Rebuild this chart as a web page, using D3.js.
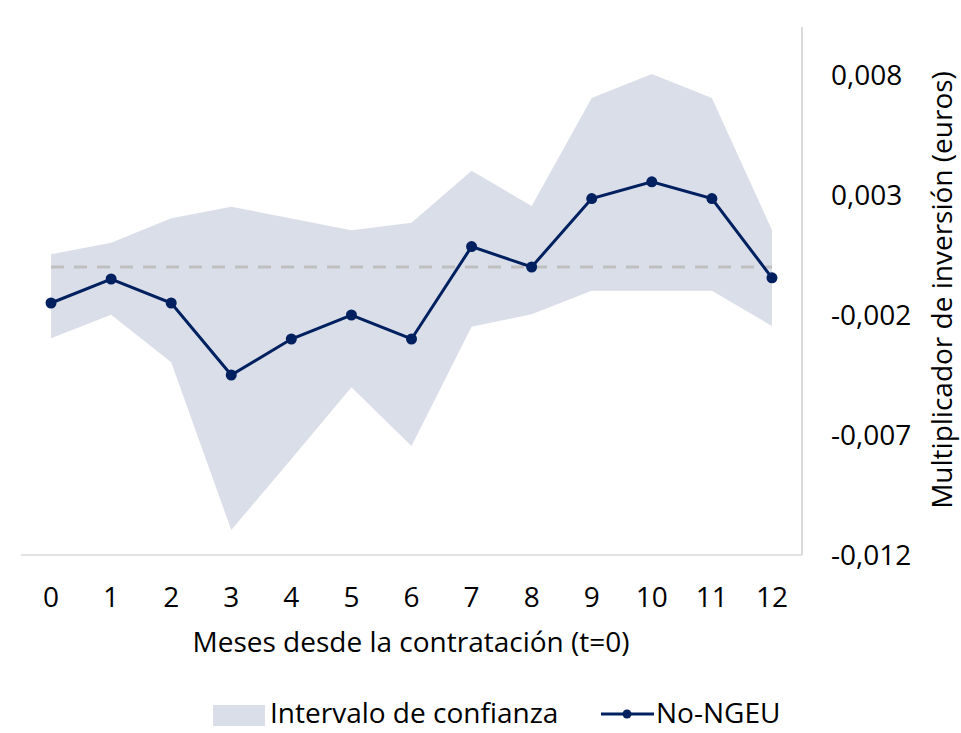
<!DOCTYPE html>
<meta charset="utf-8">
<html>
<head>
<script src="https://d3js.org/d3.v7.min.js"></script>
<style>
  body { margin: 0; background: #fff; }
  text { font-family: "Open Sans", sans-serif; fill: #000; }
</style>
</head>
<body>
<div id="chart"></div>
<script>
// months since contract signing
var months = [0, 1, 2, 3, 4, 5, 6, 7, 8, 9, 10, 11, 12];
// No-NGEU investment multiplier
var estimate = [-0.0015, -0.0005, -0.0015, -0.0045, -0.003, -0.002, -0.003, 0.00085, 0.0, 0.00285, 0.00355, 0.00285, -0.00045];
// confidence interval
var upper = [0.00053, 0.00101, 0.00203, 0.00251, 0.00202, 0.00153, 0.00184, 0.00401, 0.00254, 0.00704, 0.00804, 0.00704, 0.00154];
var lower = [-0.00297, -0.00199, -0.00397, -0.01096, -0.008, -0.00501, -0.00746, -0.00249, -0.00197, -0.00099, -0.00099, -0.00099, -0.00246];
var yTicks = [0.008, 0.003, -0.002, -0.007, -0.012];

var width = 961, height = 733;
var margin = {top: 27, right: 159, bottom: 178, left: 21};
var fs = 28;

var svg = d3.select("#chart").append("svg")
  .attr("width", width)
  .attr("height", height);

var x = d3.scalePoint()
  .domain(months)
  .range([margin.left, width - margin.right])
  .padding(0.5);

var y = d3.scaleLinear()
  .domain([-0.012, 0.010])
  .range([height - margin.bottom, margin.top]);

var fmt = function(d) { return d3.format(".3f")(d).replace(".", ",").replace("−", "-"); };

var rows = months.map(function(m, i) {
  return {m: m, v: estimate[i], hi: upper[i], lo: lower[i]};
});

// confidence band
svg.append("path")
  .datum(rows)
  .attr("fill", "#d9dee8")
  .attr("d", d3.area()
    .x(function(d) { return x(d.m); })
    .y0(function(d) { return y(d.lo); })
    .y1(function(d) { return y(d.hi); }));

// zero reference
svg.append("line")
  .attr("x1", x(0)).attr("x2", x(12))
  .attr("y1", y(0)).attr("y2", y(0))
  .attr("stroke", "#bfbfbf")
  .attr("stroke-width", 3)
  .attr("stroke-dasharray", "13,10");

// axes lines
svg.append("line")
  .attr("x1", margin.left).attr("x2", width - margin.right)
  .attr("y1", y(-0.012)).attr("y2", y(-0.012))
  .attr("stroke", "#d9d9d9").attr("stroke-width", 1.5);
svg.append("line")
  .attr("x1", width - margin.right).attr("x2", width - margin.right)
  .attr("y1", y(0.010)).attr("y2", y(-0.012))
  .attr("stroke", "#cfcfcf").attr("stroke-width", 1.5);

// line + markers
svg.append("path")
  .datum(rows)
  .attr("fill", "none")
  .attr("stroke", "#002060")
  .attr("stroke-width", 3)
  .attr("d", d3.line()
    .x(function(d) { return x(d.m); })
    .y(function(d) { return y(d.v); }));

svg.append("g").selectAll("circle")
  .data(rows)
  .enter().append("circle")
  .attr("cx", function(d) { return x(d.m); })
  .attr("cy", function(d) { return y(d.v); })
  .attr("r", 5.5)
  .attr("fill", "#002060");

// x tick labels
svg.append("g").selectAll("text")
  .data(months)
  .enter().append("text")
  .attr("x", function(d) { return x(d); })
  .attr("y", 607)
  .attr("text-anchor", "middle")
  .attr("font-size", fs)
  .text(function(d) { return d; });

// y tick labels
svg.append("g").selectAll("text")
  .data(yTicks)
  .enter().append("text")
  .attr("x", 831)
  .attr("y", function(d) { return y(d); })
  .attr("dy", "0.35em")
  .attr("font-size", fs)
  .text(fmt);

// axis titles
svg.append("text")
  .attr("x", 411)
  .attr("y", 652)
  .attr("text-anchor", "middle")
  .attr("font-size", fs)
  .text("Meses desde la contratación (t=0)");

svg.append("text")
  .attr("transform", "translate(952," + 290 + ") rotate(-90)")
  .attr("text-anchor", "middle")
  .attr("font-size", fs)
  .text("Multiplicador de inversión (euros)");

// legend
var lg = svg.append("g");
lg.append("rect")
  .attr("x", 213).attr("y", 705)
  .attr("width", 52).attr("height", 21)
  .attr("fill", "#d9dee8");
lg.append("text")
  .attr("x", 270).attr("y", 723)
  .attr("font-size", fs)
  .text("Intervalo de confianza");
lg.append("line")
  .attr("x1", 601).attr("x2", 654)
  .attr("y1", 714).attr("y2", 714)
  .attr("stroke", "#002060").attr("stroke-width", 3);
lg.append("circle")
  .attr("cx", 627).attr("cy", 714).attr("r", 4.5)
  .attr("fill", "#002060");
lg.append("text")
  .attr("x", 656).attr("y", 723)
  .attr("font-size", fs)
  .text("No-NGEU");
</script>
</body>
</html>
